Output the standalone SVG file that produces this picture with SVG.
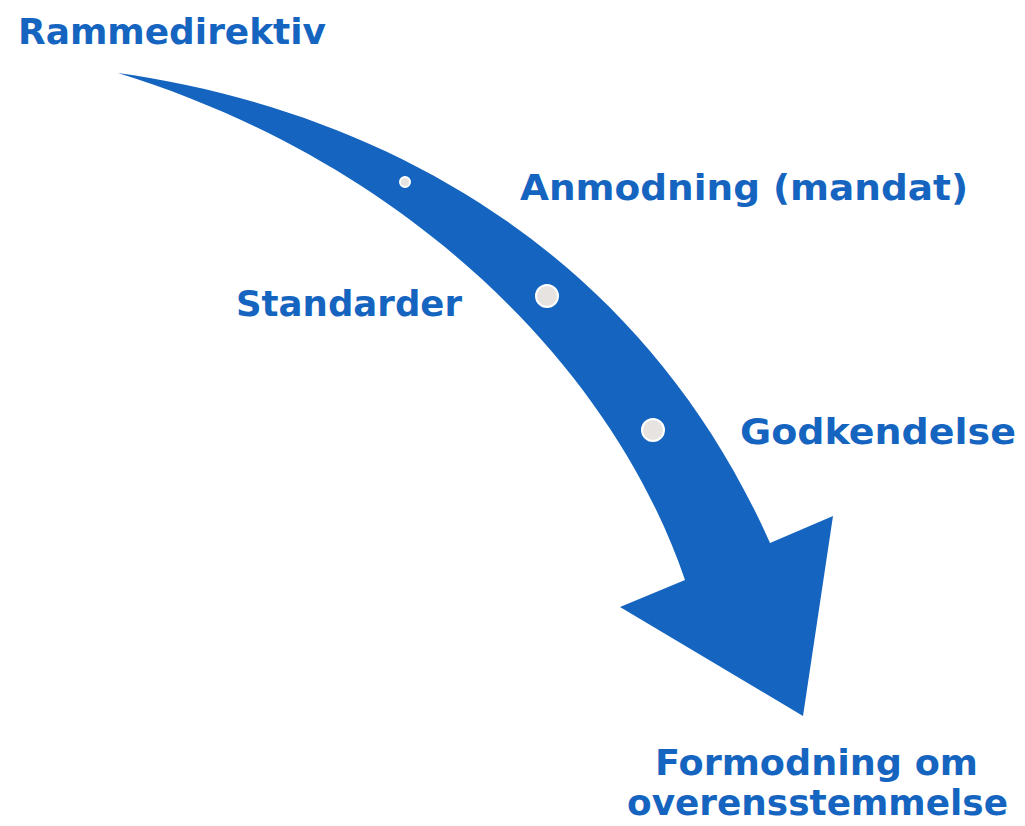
<svg xmlns="http://www.w3.org/2000/svg" width="1025" height="826" viewBox="0 0 1025 826">
<style>
.lbl{font-family:"DejaVu Sans","Liberation Sans",sans-serif;font-weight:bold;font-size:36px;fill:#1565C0}
.dot{fill:#E6E3E0;stroke:#ffffff;stroke-width:2}
</style>
<rect width="1025" height="826" fill="#ffffff"/>
<g id="connectors">
<path id="arrow" d="M118,73 C380,110 640,250 770,543 L833,516 L803,716 L620,607 L685,580 C610,360 400,160 118,73 Z" fill="#1565C0"/>
</g>
<g id="dot1"><circle class="dot" cx="405" cy="182" r="5"/></g>
<g id="dot2"><circle class="dot" cx="547" cy="296" r="11"/></g>
<g id="dot3"><circle class="dot" cx="653" cy="430" r="11"/></g>
<g id="n1"><text class="lbl" x="18" y="44" textLength="308" lengthAdjust="spacingAndGlyphs">Rammedirektiv</text></g>
<g id="n2"><text class="lbl" x="520" y="200" textLength="448" lengthAdjust="spacingAndGlyphs">Anmodning (mandat)</text></g>
<g id="n3"><text class="lbl" x="236" y="316" textLength="226" lengthAdjust="spacingAndGlyphs">Standarder</text></g>
<g id="n4"><text class="lbl" x="740" y="444" textLength="276" lengthAdjust="spacingAndGlyphs">Godkendelse</text></g>
<g id="n5"><text class="lbl" x="655" y="775" textLength="323" lengthAdjust="spacingAndGlyphs">Formodning om</text><text class="lbl" x="627" y="815" textLength="381" lengthAdjust="spacingAndGlyphs">overensstemmelse</text></g>
</svg>
